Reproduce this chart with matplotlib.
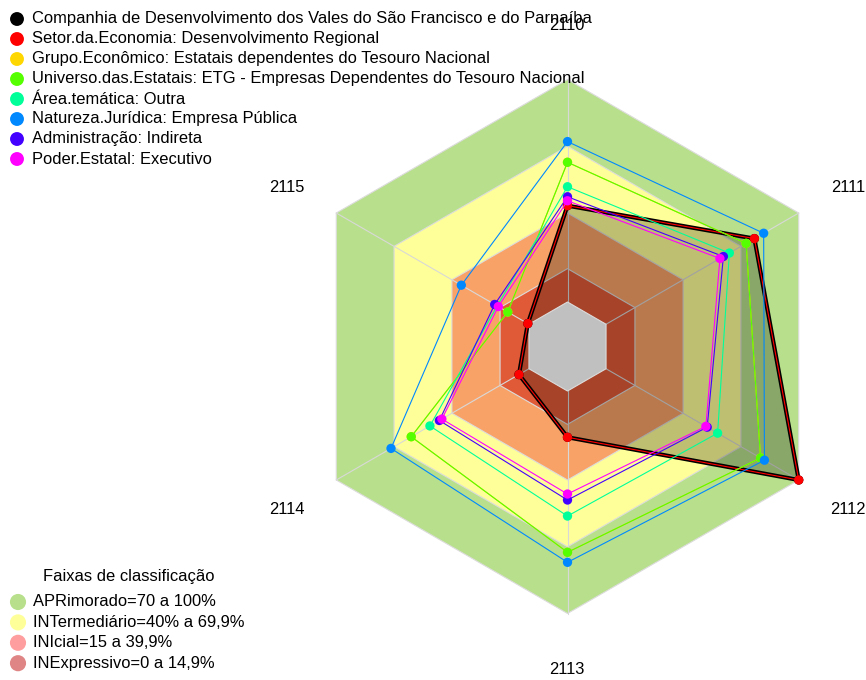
import numpy as np
import matplotlib
matplotlib.use('Agg')
import matplotlib.pyplot as plt
from matplotlib.patches import Polygon

plt.rcParams['font.family'] = ['Liberation Sans', 'DejaVu Sans']

# -----------------------------------------------------------------------------
# DATA (percent scores per axis, clockwise from the top)
# -----------------------------------------------------------------------------
axes_labels = ['2110', '2111', '2112', '2113', '2114', '2115']

series_names = [
    'Companhia de Desenvolvimento dos Vales do São Francisco e do Parnaíba',
    'Setor.da.Economia: Desenvolvimento Regional',
    'Grupo.Econômico: Estatais dependentes do Tesouro Nacional',
    'Universo.das.Estatais: ETG - Empresas Dependentes do Tesouro Nacional',
    'Área.temática: Outra',
    'Natureza.Jurídica: Empresa Pública',
    'Administração: Indireta',
    'Poder.Estatal: Executivo',
]
series_colors = ['#000000', '#FF0000', '#FFD700', '#55FF00',
                 '#00FF99', '#0088FF', '#4400FF', '#FF00FF']

companhia = [43.3, 77.0, 100.0, 20.8, 5.2, 0.6]
setor = [43.3, 77.0, 100.0, 20.8, 5.2, 0.6]
grupo = [62.8, 72.7, 80.2, 72.5, 61.1, 11.0]
universo = [62.8, 72.7, 80.2, 72.5, 61.1, 11.0]
area = [51.8, 64.0, 57.9, 56.2, 51.4, 16.5]
natureza = [72.1, 81.8, 82.2, 77.0, 71.6, 35.1]
administracao = [47.3, 60.9, 52.5, 49.0, 46.5, 17.8]
poder = [45.5, 59.1, 51.8, 46.3, 45.2, 15.9]
series_values = [companhia, setor, grupo, universo, area, natureza,
                 administracao, poder]

band_names = ['APRimorado=70 a 100%', 'INTermediário=40% a 69,9%',
              'INIcial=15 a 39,9%', 'INExpressivo=0 a 14,9%']
band_limits = [100, 70, 40, 15]
band_fill = ['#B8E08C', '#FFFF99', '#F9A267', '#E05A38']
band_legend = ['#B8E08C', '#FFFF99', '#FF9E9E', '#E08585']

# -----------------------------------------------------------------------------
# GEOMETRY
# -----------------------------------------------------------------------------
W, H = 866, 680
CX, CY, R = 567.5, 346.5, 267.0
OFFSET = 1 / 6
FS = 11.9

angles = np.deg2rad(90 - 60 * np.arange(len(axes_labels)))


def radius(p):
    return OFFSET + (1 - OFFSET) * np.asarray(p, dtype=float) / 100.0


def xy(values):
    r = radius(values)
    return r * np.cos(angles), r * np.sin(angles)


def px(x, y):
    """pixel (from top-left) -> data coords"""
    return (x - CX) / R, (CY - y) / R


fig = plt.figure(figsize=(W / 100, H / 100), dpi=100)
ax = fig.add_axes([0, 0, 1, 1])
ax.set_xlim(-CX / R, (W - CX) / R)
ax.set_ylim(-(H - CY) / R, CY / R)
ax.axis('off')

# classification bands
for lim, col in zip(band_limits, band_fill):
    hx, hy = xy([lim] * len(axes_labels))
    ax.add_patch(Polygon(np.c_[hx, hy], closed=True, facecolor=col,
                         edgecolor='#DCDCDC', linewidth=0.8, zorder=1))

# spokes
for a in angles:
    ax.plot([0, np.cos(a)], [0, np.sin(a)], color='#D8D8D8', lw=0.8, zorder=1.5)

# filled area of the company
cx_, cy_ = xy(companhia)
ax.add_patch(Polygon(np.c_[cx_, cy_], closed=True, facecolor='black',
                     alpha=0.25, edgecolor='none', zorder=2))

# centre
hx, hy = xy([0] * len(axes_labels))
ax.add_patch(Polygon(np.c_[hx, hy], closed=True, facecolor='#C0C0C0',
                     edgecolor='#DCDCDC', linewidth=0.8, zorder=3))

# series
for i, (vals, col) in enumerate(zip(series_values, series_colors)):
    x, y = xy(vals)
    x = np.append(x, x[0])
    y = np.append(y, y[0])
    lw = 3.0 if i == 0 else 0.8
    ax.plot(x, y, color=col, lw=lw, zorder=4 + i)
    ax.scatter(x[:-1], y[:-1], s=45, color=col, edgecolors='none',
               zorder=4 + i, clip_on=False)

# axis labels
label_pos = [(567, 25), (848, 187), (848, 509), (567, 669), (287, 509), (287, 187)]
for lab, (lx, ly) in zip(axes_labels, label_pos):
    ax.text(*px(lx, ly), lab, ha='center', va='center', fontsize=FS, zorder=20)

# series legend (top-left)
for i, (name, col) in enumerate(zip(series_names, series_colors)):
    yy = 19 + 20 * i
    ax.scatter(*px(17, yy), s=100, color=col, edgecolors='none', zorder=15,
               clip_on=False)
    ax.text(*px(32, yy), name, ha='left', va='center', fontsize=FS, zorder=15)

# band legend (bottom-left)
ax.text(*px(129, 577), 'Faixas de classificação', ha='center', va='center',
        fontsize=FS)
for i, (name, col) in enumerate(zip(band_names, band_legend)):
    yy = 602 + 20.4 * i
    ax.scatter(*px(18, yy), s=135, color=col, edgecolors='none', clip_on=False)
    ax.text(*px(33, yy), name, ha='left', va='center', fontsize=FS)

fig.savefig('out.png', dpi=100)
